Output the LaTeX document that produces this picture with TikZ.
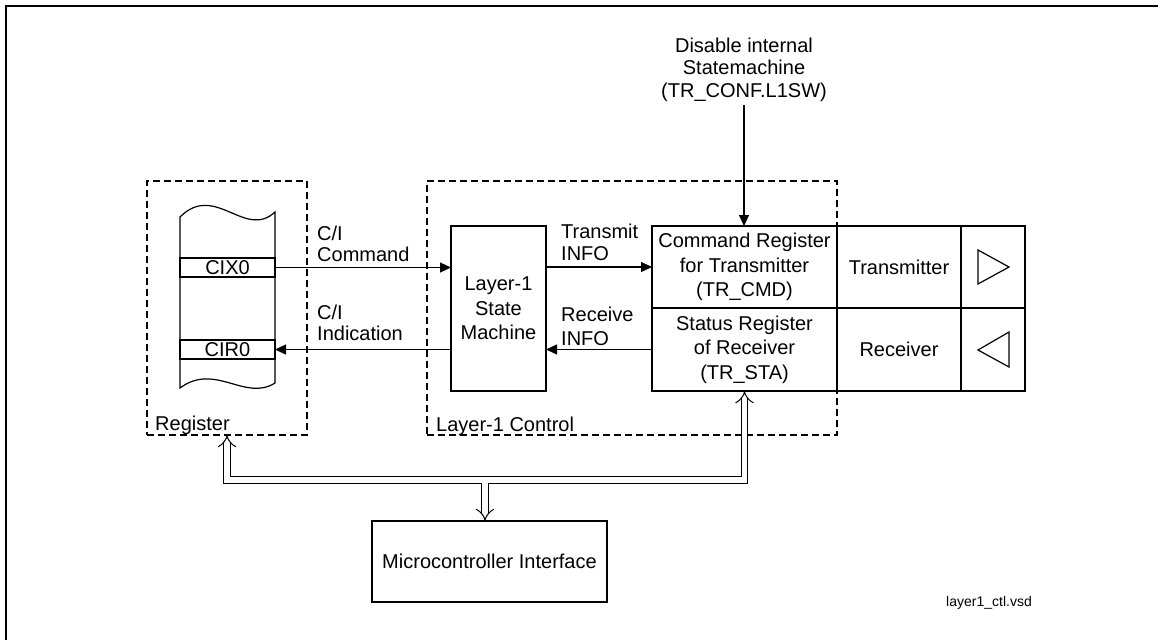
\documentclass[tikz,border=0pt]{standalone}
\usepackage{fontspec}
\setmainfont{Liberation Sans}
\usetikzlibrary{arrows.meta,calc}
\begin{document}
\begin{tikzpicture}[x=1pt,y=-1pt,
  font=\fontsize{20}{23}\selectfont,
  box/.style={draw, line width=1.2pt, inner sep=0pt, outer sep=0pt, align=center},
  dbox/.style={draw, line width=1.2pt, dash pattern=on 7pt off 4pt, inner sep=0pt, outer sep=0pt},
  arr/.style={line width=1.2pt, -{Triangle[length=11pt,width=10pt]}},
  bus/.style={double, double distance=5.6pt, line width=1pt},
  lbl/.style={inner sep=0pt, align=left}
]
\useasboundingbox (0,0) rectangle (1158,640);
% outer frame
\draw[line width=2pt] (6,640) -- (6,6) -- (1158,6);

% dashed groups
\node[dbox, minimum width=160pt, minimum height=254pt] (regbox) at (227,308) {};
\node[dbox, minimum width=410pt, minimum height=254pt] (l1box) at (632,308) {};
\node[lbl, anchor=west] (reglbl) at (155,425) {Register};
\node[lbl, anchor=west] (l1lbl) at (436,426) {Layer-1 Control};

% register scroll
\draw[line width=1.2pt, fill=white] (180,217) .. controls (215,182) and (245,240) .. (275,212)
  -- (275,383) .. controls (245,402) and (215,362) .. (180,388) -- cycle;
\node[box, minimum width=95pt, minimum height=19pt] (cix) at (227.5,267.5) {CIX0};
\node[box, minimum width=95pt, minimum height=19pt] (cir) at (227.5,349.5) {CIR0};

% state machine
\node[box, minimum width=95pt, minimum height=165pt, font=\fontsize{20}{24.5}\selectfont] (sm) at (498.5,308.5) {Layer-1\\State\\Machine};

% registers
\node[box, minimum width=185pt, minimum height=82pt, font=\fontsize{20}{24.5}\selectfont] (cmd) at (744.5,267) {Command Register\\for Transmitter\\(TR\_CMD)};
\node[box, minimum width=185pt, minimum height=83pt, font=\fontsize{20}{24.5}\selectfont] (sta) at (744.5,349.5) {Status Register\\of Receiver\\(TR\_STA)};
\node[box, minimum width=124pt, minimum height=82pt] (tx) at (899,267) {Transmitter};
\node[box, minimum width=124pt, minimum height=83pt] (rx) at (899,349.5) {Receiver};
\node[box, minimum width=64pt, minimum height=82pt] (tc) at (993,267) {};
\node[box, minimum width=64pt, minimum height=83pt] (rc) at (993,349.5) {};
\draw[line width=1.2pt] (978,250) -- (1009,267) -- (978,284) -- cycle;
\draw[line width=1.2pt] (1009,332) -- (978,350) -- (1009,367) -- cycle;

% microcontroller
\node[box, minimum width=235pt, minimum height=81pt] (mc) at (489.5,561.5) {Microcontroller Interface};

% signal arrows
\draw[arr] (cix.east) -- (cix.east -| sm.west);
\draw[arr] (cir.east -| sm.west) -- (cir.east);
\draw[arr] (sm.east |- cmd.west) -- (cmd.west);
\draw[arr] (sta.west) -- (sta.west -| sm.east);
\node[lbl, anchor=west, font=\fontsize{20}{20.5}\selectfont] (cilbl1) at (317,244) {C/I\\Command};
\node[lbl, anchor=west, font=\fontsize{20}{20.5}\selectfont] (cilbl2) at (317,323) {C/I\\Indication};
\node[lbl, anchor=west, font=\fontsize{20}{22}\selectfont] (txlbl) at (561,242) {Transmit\\INFO};
\node[lbl, anchor=west, font=\fontsize{20}{24}\selectfont] (rxlbl) at (561,326.5) {Receive\\INFO};

% disable
\node[lbl, align=center, font=\fontsize{20}{22.5}\selectfont] (dis) at (744,69.5) {Disable internal\\Statemachine\\(TR\_CONF.L1SW)};
\coordinate (disend) at (744,105);
\draw[arr] (disend) -- (disend |- cmd.north);

% bus
\coordinate (busmid) at (485,480);
\coordinate (busjoin) at (485,483.3);
\draw[bus, Implies-Implies] (regbox.south) |- (busmid) -| (sta.south);
\draw[bus, -Implies] (busjoin) -- (busjoin |- mc.north);

% file name
\node[font=\fontsize{14}{16}\selectfont] (fname) at (989,603) {layer1\_ctl.vsd};
\end{tikzpicture}
\end{document}
